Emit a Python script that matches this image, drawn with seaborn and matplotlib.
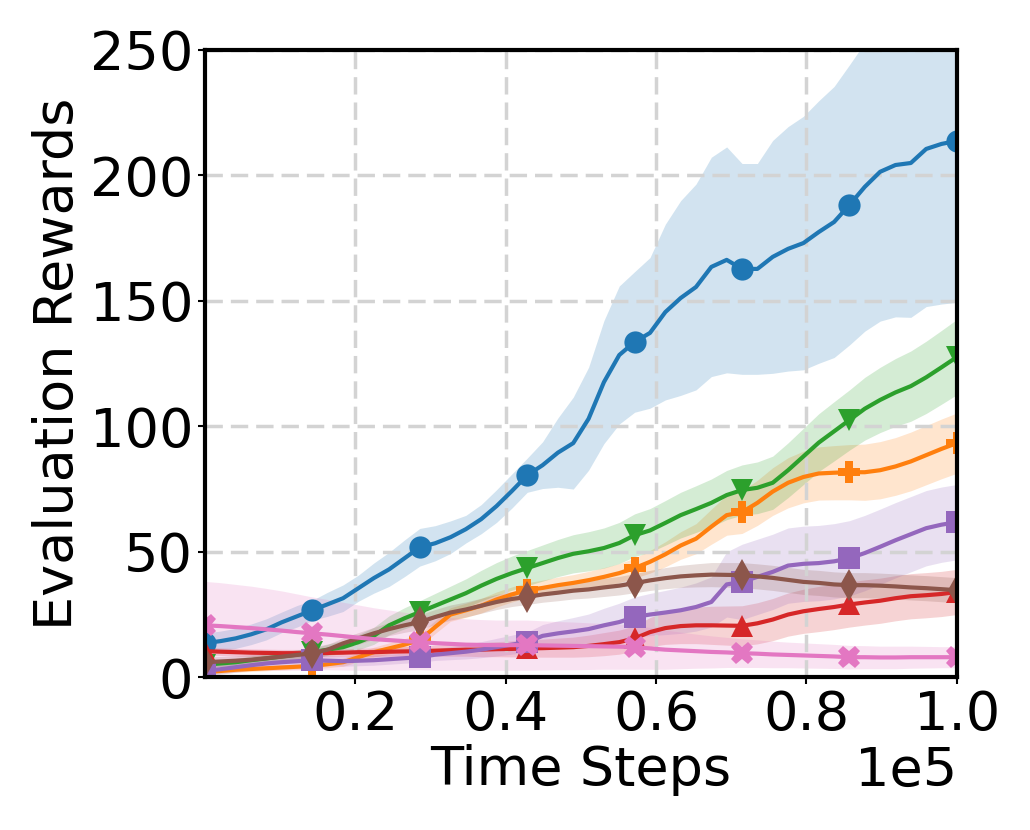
import numpy as np
import matplotlib
matplotlib.use("Agg")
import matplotlib.pyplot as plt
import seaborn as sns

# evaluation grid: 50 evaluations over 1e5 steps
steps = np.linspace(0, 1e5, 50)

blue_mean = [13.6, 14.4, 15.5, 17.1, 19.1, 21.9, 24.3, 26.7, 29.1, 31.5,
             35.5, 39.5, 43.0, 47.4, 51.8, 53.4, 55.8, 59.0, 63.0, 68.2,
             74.2, 80.5, 84.5, 89.5, 93.3, 103.0, 117.6, 128.4, 133.6, 137.2,
             145.5, 151.1, 155.5, 163.5, 166.3, 162.7, 162.7, 167.5, 170.7, 173.0,
             177.4, 181.4, 188.2, 195.4, 201.4, 204.1, 204.9, 210.5, 212.5, 213.7]
blue_sd = [4.0, 4.0, 4.0, 4.1, 4.2, 4.1, 4.3, 4.0, 4.8, 5.3,
           5.2, 6.0, 6.8, 7.3, 7.5, 7.0, 6.5, 5.5, 5.8, 6.5,
           6.8, 6.8, 9.3, 13.8, 18.3, 20.5, 24.5, 27.5, 28.0, 30.0,
           35.0, 38.8, 41.0, 43.7, 45.0, 42.0, 42.0, 46.4, 48.7, 50.5,
           52.3, 54.0, 55.8, 57.5, 59.5, 60.5, 61.5, 62.8, 63.8, 64.3]

orange_mean = [2.0, 2.5, 3.0, 3.3, 3.6, 3.9, 4.2, 4.5, 5.2, 6.0,
               8.0, 10.0, 11.5, 13.0, 14.8, 20.0, 25.0, 26.7, 28.5, 31.0,
               33.0, 34.7, 35.6, 36.7, 37.6, 38.7, 40.0, 41.5, 43.5, 46.0,
               49.0, 52.5, 55.2, 60.0, 64.6, 65.8, 69.5, 74.0, 77.5, 79.8,
               81.2, 81.5, 81.7, 81.7, 82.5, 84.0, 86.0, 88.5, 91.0, 93.3]
orange_sd = [1.0, 1.0, 1.0, 1.0, 1.0, 1.0, 1.0, 1.2, 1.4, 1.6,
             1.8, 2.0, 2.2, 2.4, 2.5, 2.6, 2.7, 2.8, 2.9, 3.0,
             3.0, 3.0, 3.1, 3.2, 3.3, 3.5, 3.7, 3.8, 4.0, 4.5,
             5.0, 5.5, 6.0, 7.0, 8.0, 8.5, 9.0, 9.5, 10.0, 10.3,
             10.6, 10.8, 11.0, 11.2, 11.4, 11.5, 11.7, 11.8, 11.9, 12.0]

green_mean = [5.0, 5.5, 6.0, 6.8, 7.5, 8.3, 9.0, 10.0, 11.0, 12.0,
              14.0, 16.5, 20.7, 23.5, 26.0, 28.5, 31.0, 33.5, 36.5, 39.2,
              41.5, 43.5, 45.5, 47.5, 49.2, 50.2, 51.5, 53.5, 56.6, 58.5,
              61.5, 64.6, 67.0, 69.5, 72.6, 74.6, 75.5, 77.5, 82.5, 88.0,
              93.5, 98.0, 102.5, 107.0, 110.5, 113.5, 116.0, 119.5, 123.5, 127.6]
green_sd = [1.5, 1.5, 1.5, 1.6, 1.7, 1.8, 1.9, 2.0, 2.3, 2.6,
            3.0, 3.4, 3.8, 4.2, 4.5, 4.9, 5.3, 5.7, 6.1, 6.5,
            6.8, 7.0, 7.2, 7.4, 7.6, 7.8, 8.0, 8.2, 8.5, 8.7,
            8.9, 9.1, 9.3, 9.5, 9.8, 10.0, 10.3, 10.6, 10.9, 11.2,
            11.5, 11.8, 12.0, 12.5, 13.0, 13.5, 14.0, 14.4, 14.7, 15.0]

red_mean = [10.4, 10.2, 10.0, 9.8, 9.7, 9.6, 9.6, 9.6, 9.7, 9.8,
            10.0, 10.0, 10.2, 10.3, 10.4, 10.6, 10.8, 11.0, 11.0, 11.2,
            11.3, 11.5, 11.6, 11.8, 12.0, 12.5, 13.2, 14.0, 15.5, 18.0,
            19.6, 20.4, 20.7, 20.7, 20.6, 20.5, 21.5, 23.0, 25.0, 26.3,
            27.2, 28.0, 29.0, 29.8, 30.5, 31.5, 32.3, 32.7, 33.2, 34.0]
red_sd = [1.5, 1.5, 1.5, 1.5, 1.5, 1.5, 1.5, 1.5, 1.5, 1.5,
          1.6, 1.7, 1.8, 1.9, 2.0, 2.2, 2.4, 2.6, 2.8, 3.0,
          3.2, 3.4, 3.6, 3.8, 4.0, 4.3, 4.6, 4.8, 5.0, 5.8,
          6.5, 7.0, 7.3, 7.6, 7.8, 8.0, 8.2, 8.4, 8.6, 8.8,
          9.0, 9.0, 9.0, 9.0, 9.0, 9.0, 9.0, 9.0, 9.0, 9.0]

purple_mean = [2.5, 3.2, 4.0, 4.8, 5.5, 6.0, 6.4, 6.8, 6.6, 6.4,
               6.6, 6.8, 7.2, 7.6, 8.0, 9.0, 9.6, 10.2, 11.0, 12.0,
               13.0, 14.0, 16.5, 17.5, 18.3, 19.2, 20.7, 22.0, 24.0, 25.0,
               25.8, 26.7, 28.0, 30.0, 37.0, 38.0, 40.0, 42.0, 44.5, 45.2,
               45.5, 46.2, 47.4, 49.5, 52.0, 54.6, 57.0, 59.4, 60.8, 61.8]
purple_sd = [2.0, 2.0, 2.0, 2.0, 2.0, 2.0, 2.0, 2.0, 2.0, 2.0,
             2.0, 2.0, 2.0, 2.0, 2.0, 2.3, 2.6, 2.9, 3.2, 3.5,
             3.8, 4.0, 4.5, 5.0, 5.5, 6.0, 6.8, 7.5, 8.0, 8.4,
             8.8, 9.2, 9.6, 10.0, 13.0, 15.0, 15.0, 15.0, 15.0, 15.0,
             15.0, 15.0, 15.0, 15.0, 15.0, 15.0, 15.0, 15.0, 15.0, 15.0]

brown_mean = [6.0, 6.3, 6.6, 7.0, 7.6, 8.2, 8.9, 9.6, 11.0, 13.5,
              15.5, 17.5, 19.2, 20.7, 22.0, 24.0, 25.8, 27.0, 28.5, 30.0,
              31.2, 32.0, 33.0, 33.7, 34.5, 35.0, 35.8, 36.5, 37.5, 38.6,
              39.5, 40.2, 40.6, 40.9, 40.8, 40.7, 40.2, 39.6, 38.8, 38.0,
              37.6, 37.0, 36.7, 36.7, 36.5, 36.2, 35.8, 35.5, 35.1, 34.7]
brown_sd = [2.0, 2.0, 2.0, 2.0, 2.0, 2.0, 2.0, 2.0, 2.1, 2.2,
            2.3, 2.4, 2.6, 2.8, 3.0, 3.0, 3.0, 3.0, 3.0, 3.0,
            3.0, 3.0, 3.1, 3.2, 3.3, 3.4, 3.6, 3.7, 3.8, 4.0,
            4.2, 4.4, 4.6, 4.8, 4.9, 5.0, 5.0, 5.0, 5.0, 5.0,
            5.0, 5.0, 5.0, 5.0, 5.0, 5.0, 5.0, 5.0, 5.0, 5.0]

pink_mean = [20.7, 20.4, 20.0, 19.6, 19.1, 18.6, 18.0, 17.5, 17.0, 16.4,
             15.8, 15.2, 14.8, 14.4, 14.0, 13.6, 13.3, 13.0, 12.9, 12.8,
             12.8, 12.8, 12.7, 12.6, 12.5, 12.4, 12.3, 12.2, 12.0, 11.5,
             11.0, 10.7, 10.4, 10.1, 9.9, 9.6, 9.4, 9.1, 8.9, 8.7,
             8.5, 8.3, 8.0, 8.0, 7.9, 7.9, 8.0, 8.0, 8.0, 8.0]
pink_sd = [17.5, 17.3, 17.0, 16.7, 16.3, 15.8, 15.2, 14.5, 14.0, 13.5,
           13.0, 12.5, 12.0, 11.5, 11.0, 10.8, 10.5, 10.3, 10.1, 10.0,
           10.0, 10.0, 9.8, 9.6, 9.5, 9.3, 9.1, 9.0, 8.8, 8.3,
           7.8, 7.3, 6.8, 6.4, 6.0, 5.7, 5.5, 5.3, 5.1, 5.0,
           4.9, 4.8, 4.7, 4.6, 4.5, 4.5, 4.4, 4.3, 4.2, 4.2]

series = [
    (blue_mean, blue_sd, "tab:blue", "o"),
    (orange_mean, orange_sd, "tab:orange", "P"),
    (green_mean, green_sd, "tab:green", "v"),
    (red_mean, red_sd, "tab:red", "^"),
    (purple_mean, purple_sd, "tab:purple", "s"),
    (brown_mean, brown_sd, "tab:brown", "d"),
    (pink_mean, pink_sd, "tab:pink", "X"),
]

fig, ax = plt.subplots(figsize=(10.3, 8.3), dpi=100)
fig.subplots_adjust(left=0.199, right=0.929, top=0.94, bottom=0.184)

for mean, sd, color, marker in series:
    mean = np.array(mean)
    sd = np.array(sd)
    sns.lineplot(x=steps, y=mean, ax=ax, color=color, marker=marker,
                 markevery=7, markersize=16, markeredgewidth=0,
                 linewidth=3, errorbar=None)
    ax.fill_between(steps, mean - sd, mean + sd, color=color, alpha=0.2,
                    linewidth=0)

ax.set_xlim(steps[0], steps[-1])
ax.set_ylim(0, 250)
ax.set_xticks([0.2e5, 0.4e5, 0.6e5, 0.8e5, 1.0e5])
ax.set_yticks([0, 50, 100, 150, 200, 250])
ax.ticklabel_format(axis="x", style="sci", scilimits=(0, 0))

ax.grid(True, color="lightgray", linewidth=2.5, linestyle=(0, (5, 2.3)))
for sp in ax.spines.values():
    sp.set_linewidth(3)
    sp.set_color("black")

fs = 39
ax.tick_params(axis="both", labelsize=fs, width=1.5, length=5)
ax.xaxis.get_offset_text().set_fontsize(fs)
ax.set_xlabel("Time Steps", fontsize=fs, labelpad=2)
ax.set_ylabel("Evaluation Rewards", fontsize=fs)

plt.savefig("out.png", dpi=100)
plt.close()
